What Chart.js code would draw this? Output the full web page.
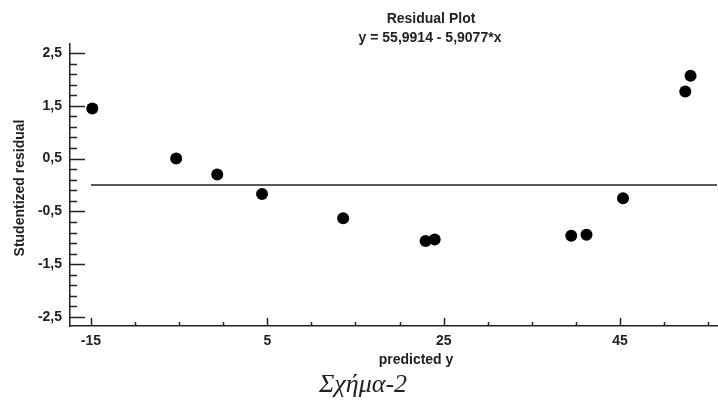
<!DOCTYPE html>
<html>
<head>
<meta charset="utf-8">
<script src="https://cdn.jsdelivr.net/npm/chart.js@4/dist/chart.umd.min.js"></script>
<style>
  html, body { margin: 0; padding: 0; background: #fff; }
  #wrap { position: relative; width: 718px; height: 403px; }
  #caption {
    position: absolute; left: 0; width: 726px; top: 369px;
    text-align: center; font: italic 26px "Liberation Serif", "DejaVu Serif", serif; color: #222;
  }
</style>
</head>
<body>
<div id="wrap">
  <canvas id="residCanvas" width="718" height="403"></canvas>
  <div id="caption">Σχήμα-2</div>
</div>
<script>
// dữ liệu
const predictedY = [-14.85, -5.34, -0.68, 4.4, 13.6, 22.95, 23.98, 39.47, 41.2, 45.34, 52.4, 53.0];
const studentized = [1.45, 0.5, 0.2, -0.17, -0.63, -1.06, -1.03, -0.96, -0.94, -0.25, 1.77, 2.07];
const xTicks = [-15, 5, 25, 45];
const yTicks = [-2.5, -1.5, -0.5, 0.5, 1.5, 2.5];
const xMinor = [-10, -5, 0, 10, 15, 20, 30, 35, 40, 50, 55];
const yMinor = [2.3, 2.1, 1.9, 1.7, 1.3, 1.1, 0.9, 0.7, 0.3, 0.1, -0.1, -0.3, -0.7, -0.9, -1.1, -1.3, -1.7, -1.9, -2.1, -2.3];
const xMin = -17.38;
const xMax = 56.0;
const zeroLine = [{ x: -15, y: 0 }, { x: xMax, y: 0 }];

const BOLD = 'bold 14px "Liberation Sans", Arial, sans-serif';
const INK = "#222";

function fmt(v) {
  return String(v).replace(".", ",");
}

// vẽ vạch chia hướng vào trong và các tiêu đề
const decorPlugin = {
  id: "decor",
  afterDraw(chart) {
    const ctx = chart.ctx;
    const x = chart.scales.x;
    const y = chart.scales.y;
    const area = chart.chartArea;
    ctx.save();
    ctx.strokeStyle = INK;
    ctx.lineWidth = 1.5;
    ctx.beginPath();
    yTicks.forEach(v => {
      const py = Math.round(y.getPixelForValue(v)) + 0.5;
      ctx.moveTo(area.left, py); ctx.lineTo(area.left + 15, py);
    });
    yMinor.forEach(v => {
      const py = Math.round(y.getPixelForValue(v)) + 0.5;
      ctx.moveTo(area.left, py); ctx.lineTo(area.left + 7, py);
    });
    xTicks.forEach(v => {
      const px = Math.round(x.getPixelForValue(v)) + 0.5;
      ctx.moveTo(px, area.bottom); ctx.lineTo(px, area.bottom - 8);
    });
    xMinor.forEach(v => {
      const px = Math.round(x.getPixelForValue(v)) + 0.5;
      ctx.moveTo(px, area.bottom); ctx.lineTo(px, area.bottom - 4);
    });
    ctx.stroke();

    ctx.fillStyle = INK;
    ctx.font = BOLD;
    ctx.textAlign = "center";
    ctx.textBaseline = "alphabetic";
    ctx.fillText("Residual Plot", 431, 23);
    ctx.fillText("y = 55,9914 - 5,9077*x", 430, 42);
    ctx.fillText("predicted y", 416, 364);

    ctx.translate(24, 188);
    ctx.rotate(-Math.PI / 2);
    ctx.fillText("Studentized residual", 0, 0);
    ctx.restore();
  }
};

const ctx = document.getElementById("residCanvas").getContext("2d");

new Chart(ctx, {
  type: "scatter",
  data: {
    datasets: [
      {
        label: "zero",
        type: "line",
        data: zeroLine,
        borderColor: INK,
        borderWidth: 1.5,
        pointRadius: 0,
        order: 2
      },
      {
        label: "Studentized residual",
        data: predictedY.map((v, i) => ({ x: v, y: studentized[i] })),
        backgroundColor: "#000",
        borderColor: "#000",
        pointRadius: 6,
        pointBorderWidth: 0,
        order: 1
      }
    ]
  },
  options: {
    responsive: false,
    animation: false,
    layout: { autoPadding: false, padding: { left: 0, top: 44, right: 1, bottom: 0 } },
    plugins: {
      legend: { display: false },
      tooltip: { enabled: false }
    },
    scales: {
      x: {
        type: "linear",
        min: xMin,
        max: xMax,
        afterBuildTicks: s => { s.ticks = xTicks.map(v => ({ value: v })); },
        afterFit: s => { s.height = 77; s.paddingLeft = 0; s.paddingRight = 0; },
        grid: { display: false, drawTicks: false },
        border: { display: true, color: INK, width: 1.5 },
        ticks: { font: { family: '"Liberation Sans", Arial', size: 14, weight: "bold" }, color: INK, padding: 7, maxRotation: 0, callback: v => fmt(v) }
      },
      y: {
        type: "linear",
        min: -2.67,
        max: 2.67,
        afterBuildTicks: s => { s.ticks = yTicks.map(v => ({ value: v })); },
        afterFit: s => { s.width = 70; s.paddingTop = 0; s.paddingBottom = 0; },
        grid: { display: false, drawTicks: false },
        border: { display: true, color: INK, width: 1.5 },
        ticks: { font: { family: '"Liberation Sans", Arial', size: 14, weight: "bold" }, color: INK, padding: 8, callback: v => fmt(v) }
      }
    }
  },
  plugins: [decorPlugin]
});
</script>
</body>
</html>
